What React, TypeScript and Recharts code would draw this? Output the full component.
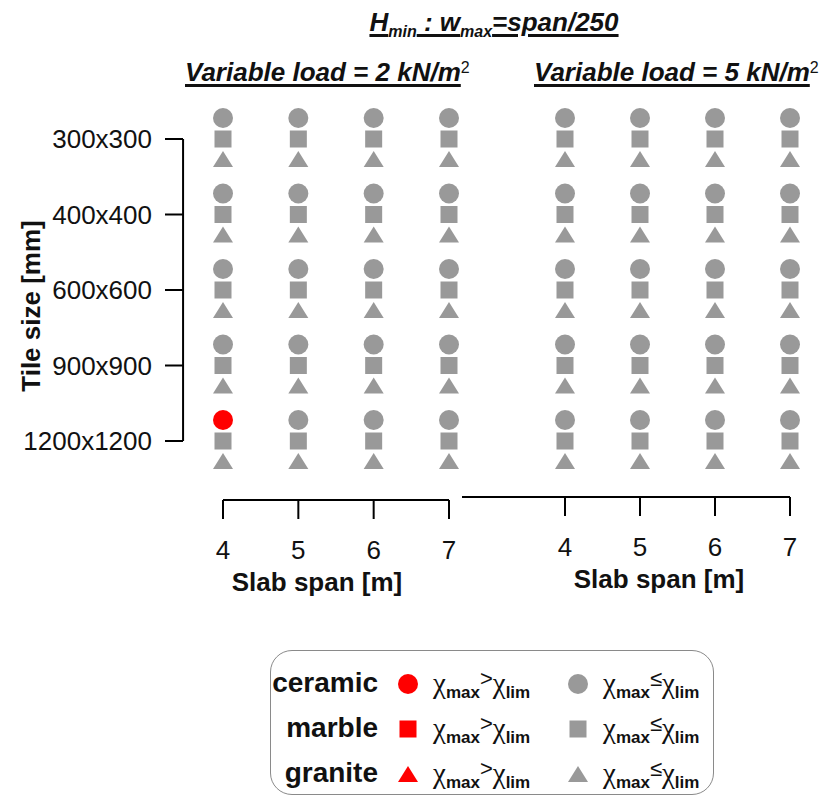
import React from 'react';
import { ScatterChart, Scatter, XAxis, YAxis, ReferenceLine, Label } from 'recharts';

const FONT = '"Liberation Sans", Arial, Helvetica, sans-serif';
const GREY = '#999999';
const RED = '#ff0000';

const SPANS = [4, 5, 6, 7];
const TILE_SIZES = ['300x300', '400x400', '600x600', '900x900', '1200x1200'];
const MATERIALS = ['ceramic', 'marble', 'granite'];

// 1 = χmax > χlim (check fails). Rows follow TILE_SIZES, columns follow SPANS.
const CERAMIC_2KN = [
  [0, 0, 0, 0],
  [0, 0, 0, 0],
  [0, 0, 0, 0],
  [0, 0, 0, 0],
  [1, 0, 0, 0],
];
const MARBLE_2KN = [
  [0, 0, 0, 0],
  [0, 0, 0, 0],
  [0, 0, 0, 0],
  [0, 0, 0, 0],
  [0, 0, 0, 0],
];
const GRANITE_2KN = [
  [0, 0, 0, 0],
  [0, 0, 0, 0],
  [0, 0, 0, 0],
  [0, 0, 0, 0],
  [0, 0, 0, 0],
];
const CERAMIC_5KN = [
  [0, 0, 0, 0],
  [0, 0, 0, 0],
  [0, 0, 0, 0],
  [0, 0, 0, 0],
  [0, 0, 0, 0],
];
const MARBLE_5KN = [
  [0, 0, 0, 0],
  [0, 0, 0, 0],
  [0, 0, 0, 0],
  [0, 0, 0, 0],
  [0, 0, 0, 0],
];
const GRANITE_5KN = [
  [0, 0, 0, 0],
  [0, 0, 0, 0],
  [0, 0, 0, 0],
  [0, 0, 0, 0],
  [0, 0, 0, 0],
];

const LOAD_2KN = { ceramic: CERAMIC_2KN, marble: MARBLE_2KN, granite: GRANITE_2KN };
const LOAD_5KN = { ceramic: CERAMIC_5KN, marble: MARBLE_5KN, granite: GRANITE_5KN };

// the three materials are stacked around each tile-size row: circle above, square on, triangle below
function Marker({ kind, cx, cy, fill }: { kind: string; cx: number; cy: number; fill: string }) {
  if (kind === 'ceramic') return <circle cx={cx} cy={cy - 21} r={10} fill={fill} />;
  if (kind === 'marble') return <rect x={cx - 8.5} y={cy - 8.5} width={17} height={17} fill={fill} />;
  return <polygon points={`${cx - 10},${cy + 28} ${cx + 10},${cy + 28} ${cx},${cy + 12}`} fill={fill} />;
}

const points = (flags: number[][], failed: boolean) =>
  flags
    .flatMap((row, t) => row.map((f, s) => ({ span: SPANS[s], tile: t, f })))
    .filter((p) => (p.f === 1) === failed);

const Y_AXIS_AT = 3.47; // y axis sits left of the first span, R-style
const Y_PAD_BOTTOM = 59;

const TileTick = ({ x, y, payload }: any) => (
  <g>
    <line x1={x - 58} x2={x - 40} y1={y} y2={y} stroke="#000" strokeWidth={2} />
    <text x={x - 71} y={y} textAnchor="end" dominantBaseline="central" fontSize={26} fill="#111" fontFamily={FONT}>
      {TILE_SIZES[payload.value]}
    </text>
  </g>
);

function Panel({ data, left, width, margin, padLeft, padBottom, labelDx, withYAxis }: any) {
  return (
    <div style={{ position: 'absolute', left, top: 0 }}>
      <ScatterChart width={width} height={620} margin={margin}>
        <XAxis
          type="number"
          dataKey="span"
          domain={[4, 7]}
          ticks={SPANS}
          interval={0}
          padding={{ left: padLeft, right: 0 }}
          height={100}
          tickSize={19}
          tickMargin={22}
          axisLine={{ stroke: '#000', strokeWidth: 2 }}
          tickLine={{ stroke: '#000', strokeWidth: 2 }}
          tick={{ fill: '#111', fontSize: 26, fontFamily: FONT }}
        >
          <Label
            value="Slab span [m]"
            position="insideBottom"
            offset={9}
            dx={labelDx}
            style={{ fontWeight: 'bold', fontSize: 26, fill: '#111', fontFamily: FONT }}
          />
        </XAxis>
        <YAxis
          type="number"
          dataKey="tile"
          domain={[0, 4]}
          ticks={[0, 1, 2, 3, 4]}
          interval={0}
          reversed
          hide={!withYAxis}
          width={223}
          padding={{ top: 0, bottom: padBottom }}
          axisLine={false}
          tickLine={false}
          tickSize={0}
          tickMargin={0}
          tick={<TileTick />}
        >
          <Label
            content={({ viewBox }: any) => {
              const x = viewBox.x + 31;
              const y = viewBox.y + (viewBox.height - padBottom) / 2 + 16;
              return (
                <text
                  x={x}
                  y={y}
                  transform={`rotate(-90 ${x} ${y})`}
                  textAnchor="middle"
                  dominantBaseline="central"
                  fontSize={26}
                  fontWeight="bold"
                  fill="#111"
                  fontFamily={FONT}
                >
                  Tile size [mm]
                </text>
              );
            }}
          />
        </YAxis>
        {withYAxis && (
          <ReferenceLine
            segment={[
              { x: Y_AXIS_AT, y: 0 },
              { x: Y_AXIS_AT, y: 4 },
            ]}
            stroke="#000"
            strokeWidth={2}
            ifOverflow="visible"
          />
        )}
        {MATERIALS.map((m) => (
          <Scatter
            key={`${m}-ok`}
            name={`${m} ok`}
            data={points(data[m], false)}
            isAnimationActive={false}
            shape={(p: any) => <Marker kind={m} cx={p.cx} cy={p.cy} fill={GREY} />}
          />
        ))}
        {MATERIALS.map((m) => (
          <Scatter
            key={`${m}-fail`}
            name={`${m} fail`}
            data={points(data[m], true)}
            isAnimationActive={false}
            shape={(p: any) => <Marker kind={m} cx={p.cx} cy={p.cy} fill={RED} />}
          />
        ))}
      </ScatterChart>
    </div>
  );
}

const chiSub = { fontFamily: FONT, fontWeight: 'bold' as const, fontSize: 17, verticalAlign: '-0.3em', lineHeight: 0 };
const chi = { fontFamily: '"Liberation Serif", "DejaVu Serif", serif', fontSize: 29 };

function Ratio({ op }: { op: string }) {
  return (
    <span style={{ whiteSpace: 'nowrap', color: '#111' }}>
      <span style={chi}>χ</span>
      <span style={chiSub}>max</span>
      <span style={{ fontFamily: FONT, fontSize: 22, verticalAlign: '0.3em' }}>{op}</span>
      <span style={chi}>χ</span>
      <span style={chiSub}>lim</span>
    </span>
  );
}

const ROW_Y = [33, 78, 123];

function LegendBox() {
  return (
    <div
      style={{
        position: 'absolute',
        left: 270,
        top: 650,
        width: 444,
        height: 145,
        border: '1.5px solid #8a8a8a',
        borderRadius: 22,
        boxSizing: 'border-box',
      }}
    >
      {MATERIALS.map((m, i) => (
        <React.Fragment key={m}>
          <div
            style={{
              position: 'absolute',
              left: -60,
              width: 167,
              top: ROW_Y[i] - 17,
              height: 32,
              lineHeight: '32px',
              textAlign: 'right',
              fontFamily: FONT,
              fontWeight: 'bold',
              fontSize: 28,
              color: '#111',
            }}
          >
            {m}
          </div>
          <svg style={{ position: 'absolute', left: 137 - 15, top: ROW_Y[i] - 15 }} width={30} height={30}>
            <Marker kind={m} cx={15} cy={m === 'ceramic' ? 36 : m === 'marble' ? 15 : -5} fill={RED} />
          </svg>
          <div style={{ position: 'absolute', left: 162, top: ROW_Y[i] - 23, height: 36, lineHeight: '36px' }}>
            <Ratio op=">" />
          </div>
          <svg style={{ position: 'absolute', left: 307 - 15, top: ROW_Y[i] - 15 }} width={30} height={30}>
            <Marker kind={m} cx={15} cy={m === 'ceramic' ? 36 : m === 'marble' ? 15 : -5} fill={GREY} />
          </svg>
          <div style={{ position: 'absolute', left: 332, top: ROW_Y[i] - 23, height: 36, lineHeight: '36px' }}>
            <Ratio op="≤" />
          </div>
        </React.Fragment>
      ))}
    </div>
  );
}

const headStyle: React.CSSProperties = {
  position: 'absolute',
  whiteSpace: 'nowrap',
  fontFamily: FONT,
  fontWeight: 'bold',
  fontStyle: 'italic',
  fontSize: 26,
  lineHeight: '30px',
  color: '#111',
};
const under: React.CSSProperties = { textDecoration: 'underline', textDecorationThickness: 2.5, textUnderlineOffset: 3 };
const subStyle: React.CSSProperties = { fontSize: 16, verticalAlign: '-0.35em', lineHeight: 0 };
const supStyle: React.CSSProperties = { fontSize: 16, fontWeight: 'normal', fontStyle: 'normal', verticalAlign: '0.5em' };

export default function App() {
  return (
    <div style={{ position: 'absolute', left: 0, top: 0, width: 824, height: 798, background: '#fff', overflow: 'hidden' }}>
      <div style={{ ...headStyle, left: 494, top: 7, transform: 'translateX(-50%)' }}>
        <span style={under}>
          H<span style={subStyle}>min</span> : w<span style={subStyle}>max</span>=span/250
        </span>
      </div>
      <div style={{ ...headStyle, left: 185, top: 53 }}>
        <span style={under}>Variable load = 2 kN/m</span>
        <span style={supStyle}>2</span>
      </div>
      <div style={{ ...headStyle, left: 534, top: 53 }}>
        <span style={under}>Variable load = 5 kN/m</span>
        <span style={supStyle}>2</span>
      </div>

      <Panel
        data={LOAD_2KN}
        left={0}
        width={470}
        margin={{ top: 139, right: 21, bottom: 20, left: 0 }}
        padLeft={0}
        padBottom={Y_PAD_BOTTOM}
        labelDx={-19}
        withYAxis
      />
      <Panel
        data={LOAD_5KN}
        left={430}
        width={394}
        margin={{ top: 139, right: 34, bottom: 23, left: 32 }}
        padLeft={103}
        padBottom={Y_PAD_BOTTOM - 3}
        labelDx={33}
        withYAxis={false}
      />

      <LegendBox />
    </div>
  );
}
